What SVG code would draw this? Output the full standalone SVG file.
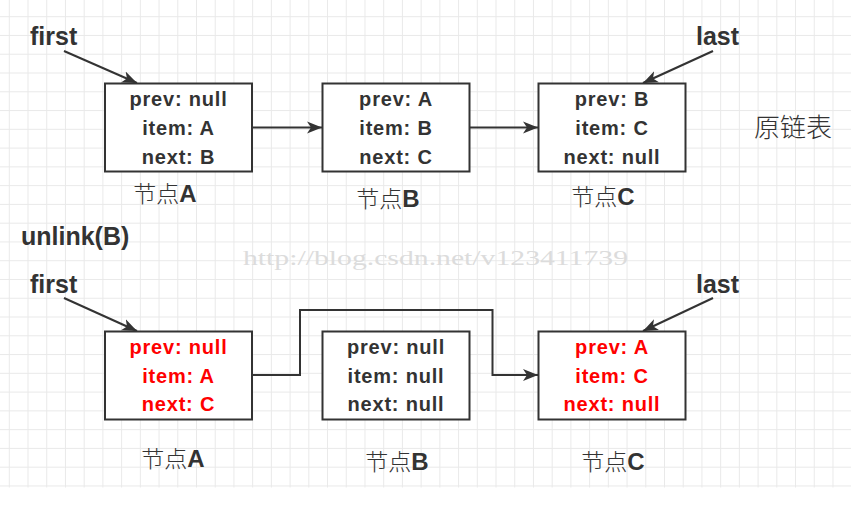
<svg xmlns="http://www.w3.org/2000/svg" width="851" height="508" viewBox="0 0 851 508">
<style>
.box{fill:#fff;stroke:#333;stroke-width:2}
.t{font-family:"Liberation Sans",Arial,sans-serif;font-weight:bold;font-size:20px;fill:#333;text-anchor:middle;letter-spacing:0.8px}
.r{fill:#ff0000}
.lab{font-family:"Liberation Sans",Arial,sans-serif;font-weight:bold;font-size:25px;fill:#333}
.cn{font-family:"Noto Sans CJK SC",sans-serif;font-weight:300;font-size:23px;fill:#333}
.nl{font-family:"Liberation Sans","Noto Sans CJK SC",sans-serif;font-size:24px;fill:#333;text-anchor:middle}
.ln{fill:none;stroke:#333;stroke-width:2}
</style>
<defs>
<pattern id="grid" patternUnits="userSpaceOnUse" x="8.8" y="16.2" width="18.72" height="18.77">
<rect x="0" y="0" width="18.72" height="1" fill="#e9e9e9"/>
<rect x="0" y="0" width="1" height="18.77" fill="#e9e9e9"/>
</pattern>
<marker id="arr" markerWidth="16" markerHeight="13" refX="15" refY="6.5" orient="auto" markerUnits="userSpaceOnUse">
<path d="M0,0.5 L15,6.5 L0,12.5 L4,6.5 Z" fill="#333"/>
</marker>
</defs>
<rect x="0" y="0" width="851" height="508" fill="#fff"/>
<rect x="0" y="0" width="851" height="487.5" fill="url(#grid)"/>
<text x="243" y="265" font-family="Liberation Serif,serif" font-size="21" fill="#dcdcdc" textLength="385" lengthAdjust="spacingAndGlyphs">http://blog.csdn.net/v123411739</text>

<g id="connectors">
<line class="ln" x1="64" y1="51" x2="137" y2="83" marker-end="url(#arr)"/>
<line class="ln" x1="713" y1="51" x2="643" y2="83" marker-end="url(#arr)"/>
<line class="ln" x1="252" y1="127.5" x2="322" y2="127.5" marker-end="url(#arr)"/>
<line class="ln" x1="469" y1="127.5" x2="538" y2="127.5" marker-end="url(#arr)"/>
<line class="ln" x1="64" y1="298" x2="137" y2="331" marker-end="url(#arr)"/>
<line class="ln" x1="713" y1="298" x2="643" y2="331" marker-end="url(#arr)"/>
<path class="ln" d="M252,375 H300 V310 H492.5 V375 H538" marker-end="url(#arr)"/>
</g>

<g id="label-first-top"><text class="lab" x="30" y="45">first</text></g>
<g id="label-last-top"><text class="lab" x="696" y="45">last</text></g>
<g id="label-unlink"><text class="lab" x="21" y="245">unlink(B)</text></g>
<g id="label-first-bottom"><text class="lab" x="30" y="293">first</text></g>
<g id="label-last-bottom"><text class="lab" x="696" y="293">last</text></g>
<g id="label-orig"><text class="cn" x="754" y="137" style="font-size:26px">原链表</text></g>

<g id="nodeA-top">
<rect class="box" x="105" y="83.5" width="147" height="88"/>
<text class="t" x="178.5" y="106">prev: null</text>
<text class="t" x="178.5" y="135">item: A</text>
<text class="t" x="178.5" y="164">next: B</text>
<text class="nl" x="165" y="202"><tspan class="cn">节点</tspan><tspan font-weight="bold">A</tspan></text>
</g>
<g id="nodeB-top">
<rect class="box" x="322.5" y="83.5" width="147" height="88"/>
<text class="t" x="396" y="106">prev: A</text>
<text class="t" x="396" y="135">item: B</text>
<text class="t" x="396" y="164">next: C</text>
<text class="nl" x="388" y="207"><tspan class="cn">节点</tspan><tspan font-weight="bold">B</tspan></text>
</g>
<g id="nodeC-top">
<rect class="box" x="538.5" y="83.5" width="147" height="88"/>
<text class="t" x="612" y="106">prev: B</text>
<text class="t" x="612" y="135">item: C</text>
<text class="t" x="612" y="164">next: null</text>
<text class="nl" x="603" y="205"><tspan class="cn">节点</tspan><tspan font-weight="bold">C</tspan></text>
</g>

<g id="nodeA-bottom">
<rect class="box" x="105" y="331.5" width="147" height="88"/>
<text class="t r" x="178.5" y="354">prev: null</text>
<text class="t r" x="178.5" y="383">item: A</text>
<text class="t r" x="178.5" y="411">next: C</text>
<text class="nl" x="173" y="467"><tspan class="cn">节点</tspan><tspan font-weight="bold">A</tspan></text>
</g>
<g id="nodeB-bottom">
<rect class="box" x="322.5" y="331.5" width="147" height="88"/>
<text class="t" x="396" y="354">prev: null</text>
<text class="t" x="396" y="383">item: null</text>
<text class="t" x="396" y="411">next: null</text>
<text class="nl" x="397" y="470"><tspan class="cn">节点</tspan><tspan font-weight="bold">B</tspan></text>
</g>
<g id="nodeC-bottom">
<rect class="box" x="538.5" y="331.5" width="147" height="88"/>
<text class="t r" x="612" y="354">prev: A</text>
<text class="t r" x="612" y="383">item: C</text>
<text class="t r" x="612" y="411">next: null</text>
<text class="nl" x="613" y="470"><tspan class="cn">节点</tspan><tspan font-weight="bold">C</tspan></text>
</g>
</svg>
